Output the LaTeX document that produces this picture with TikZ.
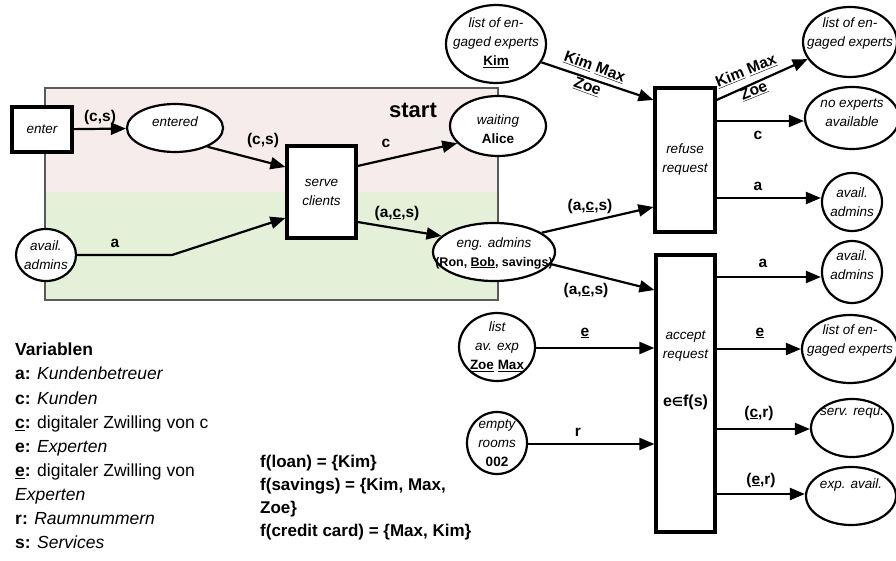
\documentclass[tikz,border=0pt]{standalone}
\usepackage{fontspec}
\setmainfont{Liberation Sans}
\newfontfamily\dejavu{DejaVu Sans}
\usetikzlibrary{arrows.meta,shapes.geometric,calc}
\definecolor{pinkbg}{RGB}{247,236,236}
\definecolor{greenbg}{RGB}{228,241,216}
\definecolor{frame}{RGB}{90,90,90}
\begin{document}
\begin{tikzpicture}[x=1pt,y=-1pt,
  trans/.style={draw, line width=3.2pt, fill=white, rectangle, inner sep=0pt,
    font=\itshape\fontsize{13.5}{19}\selectfont, align=center},
  place/.style={draw, line width=2.2pt, fill=white, ellipse, inner sep=0pt},
  ptext/.style={font=\itshape\fontsize{13.5}{19}\selectfont, align=center, inner sep=0pt},
  arr/.style={line width=2.2pt, -{Triangle[length=15pt,width=12pt]}},
  lbl/.style={font=\bfseries\fontsize{15.5}{21}\selectfont, inner sep=0pt, align=center},
  legend/.style={font=\fontsize{17.5}{24.1}\selectfont, inner sep=0pt, align=left, anchor=north west},
]
\useasboundingbox (0,0) rectangle (896,561);

% background region
\fill[pinkbg] (45,88) rectangle (498,192);
\fill[greenbg] (45,192) rectangle (498,300);
\draw[frame, line width=1.3pt] (45,88) rectangle (498,300);
\node[font=\bfseries\fontsize{22}{26}\selectfont, inner sep=0pt] (start) at (413,110) {start};

% transitions
\node[trans, minimum width=60pt, minimum height=45pt] (enter) at (42,129.5) {enter};
\node[trans, minimum width=69pt, minimum height=92pt] (serve) at (321.5,192) {serve\\clients};
\node[trans, minimum width=60pt, minimum height=144pt] (refuse) at (685,160) {refuse\\request};
\node[trans, minimum width=59pt, minimum height=277pt] (accept) at (685.5,393.5) {};
\node[ptext] (acceptT) at (685.5,346) {accept\\request};
\node[font=\bfseries\fontsize{16}{19}\selectfont, inner sep=0pt] (acceptG) at (685.5,402)
  {e{\dejavu\bfseries\fontsize{12.5}{14}\selectfont ∈}f(s)};

% places
\node[place, minimum width=96pt, minimum height=48pt] (entered) at (175,128) {};
\node[ptext] (enteredT) at (175,122) {entered};
\node[place, minimum width=60pt, minimum height=52pt] (availL) at (46,255) {};
\node[ptext] (availLT) at (46,255) {avail.\\admins};
\node[place, minimum width=96pt, minimum height=60pt] (waiting) at (498,126) {};
\node[ptext] (waitingT) at (498,129) {waiting\\\textbf{\upshape Alice}};
\node[place, minimum width=122pt, minimum height=58pt] (engadm) at (494,252) {};
\node[ptext] (engadmT) at (494,253) {eng. admins\\{\upshape\bfseries\fontsize{12.5}{18}\selectfont (Ron, \underline{Bob}, savings)}};
\node[place, minimum width=100pt, minimum height=78pt] (listKim) at (496,44) {};
\node[ptext] (listKimT) at (496,43) {list of en-\\gaged experts\\\textbf{\upshape\underline{Kim}}};
\node[place, minimum width=76pt, minimum height=68pt] (listav) at (497,347) {};
\node[ptext] (listavT) at (497,347) {list\\av. exp\\\textbf{\upshape\underline{Zoe} \underline{Max}}};
\node[place, minimum width=60pt, minimum height=62pt] (empty) at (497,443) {};
\node[ptext] (emptyT) at (497,443) {empty\\rooms\\\textbf{\upshape 002}};

\node[place, minimum width=94pt, minimum height=70pt] (listR) at (850,42) {};
\node[ptext] (listRT) at (850,34) {list of en-\\gaged experts};
\node[place, minimum width=94pt, minimum height=62pt] (noexp) at (852,118) {};
\node[ptext] (noexpT) at (852,113) {no experts\\available};
\node[place, minimum width=60pt, minimum height=58pt] (availR1) at (852,202) {};
\node[ptext] (availR1T) at (852,202) {avail.\\admins};
\node[place, minimum width=60pt, minimum height=62pt] (availR2) at (852,272) {};
\node[ptext] (availR2T) at (852,265) {avail.\\admins};
\node[place, minimum width=96pt, minimum height=68pt] (listR2) at (850,349) {};
\node[ptext] (listR2T) at (850,341) {list of en-\\gaged experts};
\node[place, minimum width=82pt, minimum height=58pt] (servrequ) at (852,428) {};
\node[ptext] (servrequT) at (852,413) {serv. requ.};
\node[place, minimum width=90pt, minimum height=58pt] (expavail) at (851,496) {};
\node[ptext] (expavailT) at (851,485) {exp. avail.};

% connectors
\draw[arr] (enter) -- (entered);
\node[lbl] (l1) at (100,117) {(c,s)};
\draw[arr] (entered.-30) -- (serve.west |- 0,167);
\node[lbl] (l2) at (263,140) {(c,s)};
\coordinate (bendA) at (172,255);
\draw[arr] (availL.east) -- (bendA) -- (serve.west |- 0,218);
\node[lbl] (l3) at (115,243) {a};
\draw[arr] (serve.east |- 0,166) -- (waiting.203);
\node[lbl] (l4) at (386,143) {c};
\draw[arr] (serve.east |- 0,222) -- (engadm.163);
\node[lbl] (l5) at (397,213) {(a,\underline{c},s)};
\draw[arr] (engadm.22) -- (refuse.west |- 0,207);
\node[lbl] (l6) at (590,206) {(a,\underline{c},s)};
\draw[arr] (engadm.-12) -- (accept.west |- 0,290);
\node[lbl] (l7) at (586,290) {(a,\underline{c},s)};
\draw[arr] (listKim.-22) -- (refuse.west |- 0,100);
\node[lbl, rotate=-20] (l8) at (591,77) {\underline{Kim} \underline{Max}\\\underline{Zoe}};
\draw[arr] (refuse.east |- 0,100) -- (listR.202);
\node[lbl, rotate=22] (l9) at (750,81) {\underline{Kim} \underline{Max}\\\underline{Zoe}};
\draw[arr] (refuse.east |- 0,121) -- (noexp.west |- 0,121);
\node[lbl] (l10) at (758,135) {c};
\draw[arr] (refuse.east |- 0,198) -- (availR1.west |- 0,198);
\node[lbl] (l11) at (758,186) {a};
\draw[arr] (listav.east |- 0,348) -- (accept.west |- 0,348);
\node[lbl] (l12) at (585,333) {\underline{e}};
\draw[arr] (empty.east |- 0,444) -- (accept.west |- 0,444);
\node[lbl] (l13) at (578,432) {r};
\draw[arr] (accept.east |- 0,277) -- (availR2.west |- 0,277);
\node[lbl] (l14) at (763,263) {a};
\draw[arr] (accept.east |- 0,349) -- (listR2.west |- 0,349);
\node[lbl] (l15) at (760,333) {\underline{e}};
\draw[arr] (accept.east |- 0,429) -- (servrequ.west |- 0,429);
\node[lbl] (l16) at (759,413) {(\underline{c},r)};
\draw[arr] (accept.east |- 0,494) -- (expavail.west |- 0,494);
\node[lbl] (l17) at (761,480) {(\underline{e},r)};

% legend
\node[legend] (vars) at (15,343) {\textbf{Variablen}\\
\textbf{a:} \textit{Kundenbetreuer}\\
\textbf{c:} \textit{Kunden}\\
\textbf{\underline{c}:} digitaler Zwilling von c\\
\textbf{e:} \textit{Experten}\\
\textbf{\underline{e}:} digitaler Zwilling von\\
\textit{Experten}\\
\textbf{r:} \textit{Raumnummern}\\
\textbf{s:} \textit{Services}};
\node[legend, font=\bfseries\fontsize{17}{23}\selectfont] (fdef) at (260,455) {f(loan) = \{Kim\}\\
f(savings) = \{Kim, Max,\\
Zoe\}\\
f(credit card) = \{Max, Kim\}};
\end{tikzpicture}
\end{document}
